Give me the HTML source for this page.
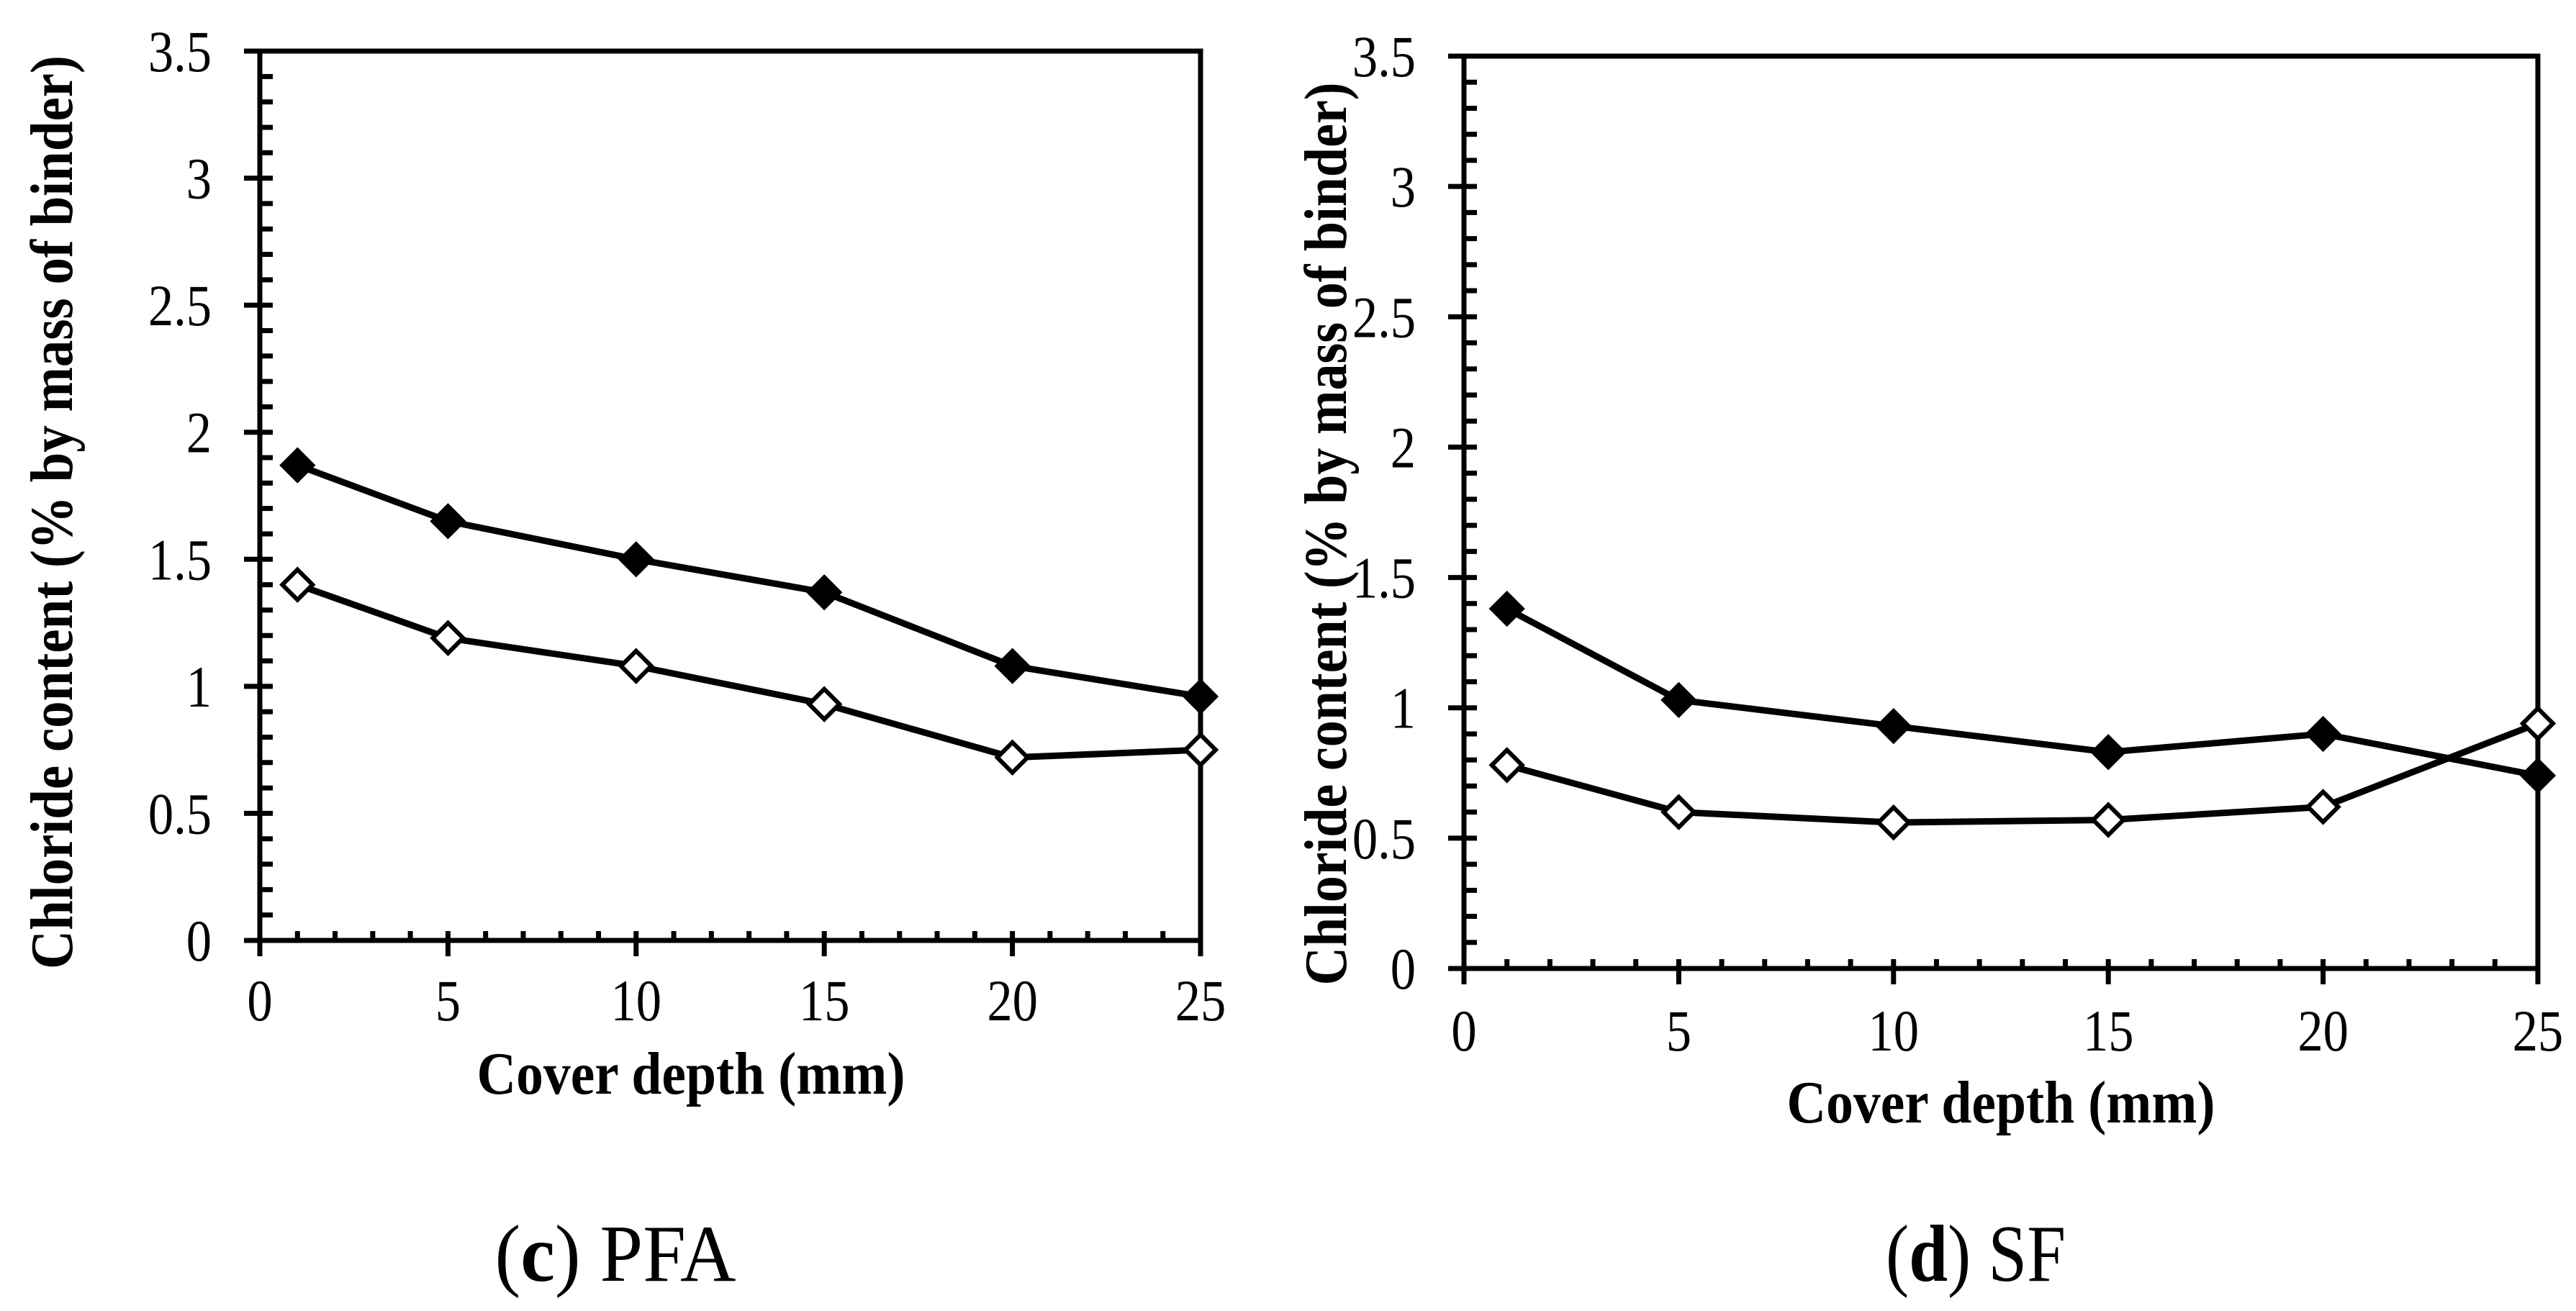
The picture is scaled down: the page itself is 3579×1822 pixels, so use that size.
<!DOCTYPE html>
<html><head><meta charset="utf-8"><style>
html,body{margin:0;padding:0;background:#fff;}
svg{display:block;}
text{font-family:"Liberation Serif",serif;fill:#000;}
</style></head><body>
<svg id="fig" width="3579" height="1822" viewBox="0 0 3579 1822" xmlns="http://www.w3.org/2000/svg">
<rect width="3579" height="1822" fill="#fff"/>
</svg>
<script>
const depths = [1, 5, 10, 15, 20, 25];
const pfaFilled = [1.87, 1.65, 1.50, 1.37, 1.08, 0.96];
const pfaOpen = [1.40, 1.19, 1.08, 0.93, 0.72, 0.75];
const sfFilled = [1.38, 1.03, 0.93, 0.83, 0.90, 0.74];
const sfOpen = [0.78, 0.60, 0.56, 0.57, 0.62, 0.94];
const xTickLabels = ["0", "5", "10", "15", "20", "25"];
const yTickLabels = ["0", "0.5", "1", "1.5", "2", "2.5", "3", "3.5"];

const NS = "http://www.w3.org/2000/svg";
const svg = document.getElementById("fig");
function mk(tag, attrs, parent) {
  const e = document.createElementNS(NS, tag);
  for (const k in attrs) e.setAttribute(k, attrs[k]);
  (parent || svg).appendChild(e);
  return e;
}

function drawChart(cfg) {
  const g = mk("g", {});
  
  
  const {x0, x1, y0, y1} = cfg;
  const sx = v => x0 + (v - 0) / 25 * (x1 - x0);
  const sy = v => y0 - v / 3.5 * (y0 - y1);
  const sw = 7;
  const frame = mk("rect", {x: x0, y: y1, width: x1 - x0, height: y0 - y1, fill: "none", stroke: "#000", "stroke-width": sw}, g);
  
  
  for (let i = 0; i <= 25; i++) {
    const X = sx(i);
    const major = i % 5 === 0;
    const t = mk("line", {x1: X, x2: X, y1: major ? y0 + 22 : y0, y2: y0 - 13, stroke: "#000", "stroke-width": sw}, g);
    
    
  }
  xTickLabels.forEach(lab => {
    const t = mk("text", {x: 0, y: 0, "font-size": 82, "text-anchor": "middle", transform: `translate(${sx(+lab)},${cfg.xLabY}) scale(0.86,1)`}, g);
    t.textContent = lab;
    
    
  });
  for (let i = 0; i <= 35; i++) {
    const Y = sy(i / 10);
    const major = i % 5 === 0;
    const t = mk("line", {x1: major ? x0 - 22 : x0, x2: x0 + 18, y1: Y, y2: Y, stroke: "#000", "stroke-width": sw}, g);
    
    
  }
  yTickLabels.forEach(lab => {
    const t = mk("text", {x: 0, y: 0, "font-size": 82, "text-anchor": "end", transform: `translate(${x0 - 67},${sy(+lab) + 28}) scale(0.86,1)`}, g);
    t.textContent = lab;
    
    
  });
  function series(vals, filled, name) {
    const pts = depths.map((d, i) => sx(d) + "," + sy(vals[i])).join(" ");
    const pl = mk("polyline", {points: pts, fill: "none", stroke: "#000", "stroke-width": 9, "stroke-linejoin": "round"}, g);
    
    
    depths.forEach((d, i) => {
      const X = sx(d), Y = sy(vals[i]), r = filled ? 23 : 21;
      const m = mk("polygon", {points: `${X},${Y - r} ${X + r},${Y} ${X},${Y + r} ${X - r},${Y}`, fill: filled ? "#000" : "#fff", stroke: "#000", "stroke-width": filled ? 3 : 6}, g);
      
      
    });
  }
  series(cfg.open, false, "open-series");
  series(cfg.filled, true, "filled-series");
  const xt = mk("text", {x: cfg.xTitleX, y: cfg.xTitleY, "font-size": 84, "font-weight": "bold", "text-anchor": "middle", textLength: 595, lengthAdjust: "spacingAndGlyphs"}, g);
  xt.textContent = "Cover depth (mm)";
  
  
  const yt = mk("text", {x: 0, y: 0, "font-size": 84, "font-weight": "bold", "text-anchor": "middle", textLength: cfg.yTitleLen, lengthAdjust: "spacingAndGlyphs", transform: `translate(${cfg.yTitleX},${cfg.yTitleY}) rotate(-90)`}, g);
  yt.textContent = cfg.yTitle;
  
  
  const cap = mk("text", {x: cfg.capX, y: 1780, "font-size": 112, "text-anchor": "middle", textLength: cfg.capLen, lengthAdjust: "spacingAndGlyphs"}, g);
  cap.innerHTML = '(<tspan font-weight="bold">' + cfg.capLetter + '</tspan>) ' + cfg.capText;
  
  
}

drawChart({name: "chart-pfa", x0: 361, x1: 1668, y0: 1307, y1: 71, filled: pfaFilled, open: pfaOpen,
  xLabY: 1418, xTitleX: 960, xTitleY: 1520, yTitleX: 100, yTitleY: 712, yTitleLen: 1270,
  yTitle: "Chloride content (% by  mass of binder)", capX: 855, capLen: 335, capLetter: "c", capText: "PFA"});
drawChart({name: "chart-sf", x0: 2034, x1: 3526, y0: 1346, y1: 78, filled: sfFilled, open: sfOpen,
  xLabY: 1460, xTitleX: 2780, xTitleY: 1560, yTitleX: 1870, yTitleY: 742, yTitleLen: 1255,
  yTitle: "Chloride content (% by mass of binder)", capX: 2745, capLen: 250, capLetter: "d", capText: "SF"});
</script>
</body></html>
